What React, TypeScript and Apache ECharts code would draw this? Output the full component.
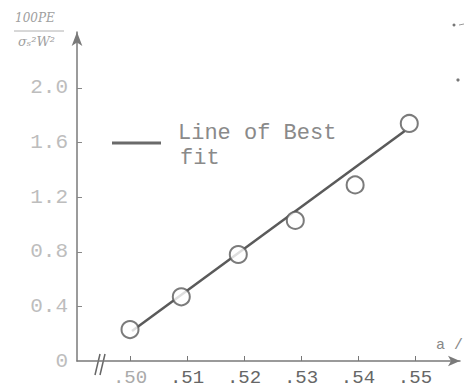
import React, { useEffect, useRef } from "react";
import * as echarts from "echarts";

const xTicks = [0.5, 0.51, 0.52, 0.53, 0.54, 0.55];
const yTicks = [0, 0.4, 0.8, 1.2, 1.6, 2.0];
const pointX = [0.5, 0.509, 0.519, 0.529, 0.5395, 0.549];
const pointY = [0.23, 0.47, 0.78, 1.03, 1.29, 1.74];
const fitX = [0.50035, 0.5482];
const fitY = [0.22, 1.685];
const legendLabel = ["Line of Best", "fit"];

export default function App() {
  const ref = useRef<HTMLDivElement>(null);
  useEffect(() => {
    if (!ref.current) return;
    const chart = echarts.init(ref.current, null, { renderer: "svg" });
    const mono = "Liberation Mono";
    chart.setOption({
      animation: false,
      backgroundColor: "#ffffff",
      grid: { left: 77, right: 4, top: 32, bottom: 26, containLabel: false },
      xAxis: {
        type: "value",
        min: 0.4907,
        max: 0.5579,
        axisLine: {
          show: true,
          symbol: ["none", "arrow"],
          symbolSize: [8, 12],
          lineStyle: { color: "#7a7a7a", width: 1.5 },
        },
        axisTick: { show: true, inside: true, length: 5, customValues: xTicks, lineStyle: { color: "#777" } },
        axisLabel: {
          customValues: xTicks,
          margin: 7,
          fontFamily: mono,
          fontSize: 19,
          color: (v: any) => (Math.abs(Number(v) - 0.5) < 1e-6 ? "#aaaaaa" : "#666666"),
          formatter: (v: number) => "." + Math.round(v * 100),
        },
        splitLine: { show: false },
      },
      yAxis: {
        type: "value",
        min: 0,
        max: 2.41,
        axisLine: {
          show: true,
          symbol: ["none", "arrow"],
          symbolSize: [8, 14],
          lineStyle: { color: "#7a7a7a", width: 1.5 },
        },
        axisTick: {
          show: true,
          inside: true,
          length: 5,
          customValues: yTicks.slice(1),
          lineStyle: { color: "#888" },
        },
        axisLabel: {
          customValues: yTicks,
          margin: 9,
          fontFamily: mono,
          fontSize: 21,
          color: "#bdbdbd",
          formatter: (v: number) => (v === 0 ? "0" : v.toFixed(1)),
        },
        splitLine: { show: false },
      },
      series: [
        {
          type: "line",
          data: fitX.map((x, i) => [x, fitY[i]]),
          showSymbol: false,
          lineStyle: { color: "#5a5a5a", width: 2.5 },
          z: 2,
        },
        {
          type: "scatter",
          data: pointX.map((x, i) => [x, pointY[i]]),
          symbol: "emptyCircle",
          symbolSize: 17,
          itemStyle: { color: "#5a5a5a", borderColor: "#5a5a5a", borderWidth: 2 },
          z: 3,
        },
      ],
      graphic: [
        { type: "line", shape: { x1: 112, y1: 143, x2: 161, y2: 143 }, style: { stroke: "#6a6a6a", lineWidth: 3 } },
        {
          type: "text",
          x: 178,
          y: 133,
          style: { text: legendLabel[0], fontFamily: mono, fontSize: 22, fill: "#8a8a8a", verticalAlign: "middle" },
        },
        {
          type: "text",
          x: 180,
          y: 158,
          style: { text: legendLabel[1], fontFamily: mono, fontSize: 22, fill: "#8a8a8a", verticalAlign: "middle" },
        },
        {
          type: "text",
          x: 15,
          y: 12,
          style: { text: "100PE", fontFamily: "DejaVu Serif", fontStyle: "italic", fontSize: 12, fill: "#a0a0a0" },
        },
        { type: "line", shape: { x1: 14, y1: 31, x2: 64, y2: 31 }, style: { stroke: "#b0b0b0", lineWidth: 1 } },
        {
          type: "text",
          x: 18,
          y: 35,
          style: { text: "σₛ²W²", fontFamily: "DejaVu Serif", fontStyle: "italic", fontSize: 13, fill: "#a0a0a0" },
        },
        { type: "line", shape: { x1: 95, y1: 375, x2: 100, y2: 354 }, style: { stroke: "#666", lineWidth: 1.5 } },
        { type: "line", shape: { x1: 100, y1: 375, x2: 105, y2: 354 }, style: { stroke: "#666", lineWidth: 1.5 } },
        {
          type: "text",
          x: 436,
          y: 345,
          style: { text: "a /", fontFamily: mono, fontSize: 15, fill: "#888", verticalAlign: "middle" },
        },
        { type: "circle", shape: { cx: 454, cy: 25, r: 1.5 }, style: { fill: "#777" } },
        { type: "line", shape: { x1: 459, y1: 25, x2: 464, y2: 24 }, style: { stroke: "#999", lineWidth: 1 } },
        { type: "circle", shape: { cx: 458, cy: 80, r: 1.6 }, style: { fill: "#777" } },
      ],
    });
    return () => chart.dispose();
  }, []);
  return <div ref={ref} style={{ width: 464, height: 387, position: "absolute", left: 0, top: 0 }} />;
}
